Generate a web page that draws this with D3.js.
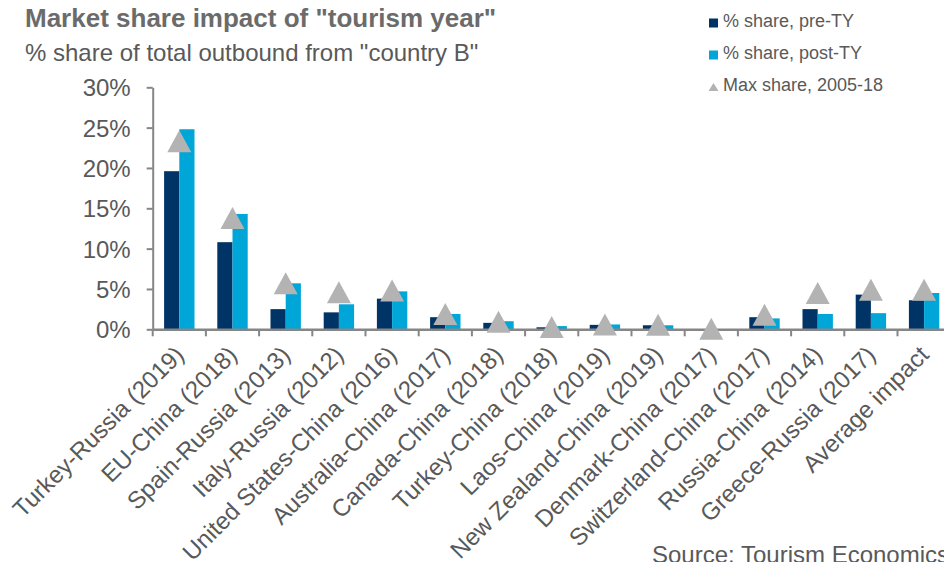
<!DOCTYPE html>
<html><head><meta charset="utf-8">
<script src="https://cdn.jsdelivr.net/npm/d3@7"></script>
<style>body{margin:0;background:#fff;overflow:hidden}svg{display:block;font-family:"Liberation Sans",Arial,sans-serif}</style>
</head><body><svg id="c" width="944" height="562"></svg>
<script>
const categories = ["Turkey-Russia (2019)","EU-China (2018)","Spain-Russia (2013)","Italy-Russia (2012)","United States-China (2016)","Australia-China (2017)","Canada-China (2018)","Turkey-China (2018)","Laos-China (2019)","New Zealand-China (2019)","Denmark-China (2017)","Switzerland-China (2017)","Russia-China (2014)","Greece-Russia (2017)","Average impact"];
const preTY  = [19.6,10.8,2.5,2.1,3.8,1.5,0.8,0.25,0.55,0.5,0.0,1.5,2.5,4.3,3.6];
const postTY = [24.8,14.3,5.7,3.1,4.7,1.9,1.0,0.4,0.6,0.5,0.0,1.35,1.9,2.0,4.5];
const maxShare = [23.3,13.8,5.7,4.6,4.8,1.9,0.95,0.3,0.6,0.55,0.07,1.8,4.5,4.9,4.9];
const yTicks = [0,5,10,15,20,25,30];
const seriesNames = ['% share, pre-TY','% share, post-TY','Max share, 2005-18'];

const svg = d3.select('#c');
const x0 = 152.7, bw = 53.2;
const x = d3.scaleBand().domain(categories).range([x0, x0 + bw*categories.length]).padding(0);
const y = d3.scaleLinear().domain([0,30]).range([329.3,87.3]);
const barW = 15.2;
const cPre='#003366', cPost='#00a6d8', cTri='#b3b3b3', axisC='#868686', txt='#595959';

// title
svg.append('text').attr('x',25).attr('y',27).attr('font-size',26).attr('font-weight','bold').attr('fill','#6b6b6b').text('Market share impact of "tourism year"');
svg.append('text').attr('x',25).attr('y',61).attr('font-size',24).attr('fill',txt).text('% share of total outbound from "country B"');

// y axis
const ya = svg.append('g').attr('transform',`translate(${x0},0)`).call(d3.axisLeft(y).tickValues(yTicks).tickFormat(d=>d+'%').tickSize(6).tickSizeOuter(0));
ya.select('.domain').attr('stroke',axisC).attr('stroke-width',2);
ya.selectAll('.tick line').attr('stroke',axisC).attr('stroke-width',2);
ya.selectAll('.tick text').attr('font-size',24).attr('fill',txt).attr('x',-22).attr('dy','0.35em').attr('font-family','"Liberation Sans",Arial,sans-serif');

// bars
const g = svg.append('g');
categories.forEach((c,i)=>{
  const cx = x(c) + x.bandwidth()/2;
  g.append('rect').attr('x',cx-barW).attr('width',barW).attr('y',y(preTY[i])).attr('height',y(0)-y(preTY[i])).attr('fill',cPre);
  g.append('rect').attr('x',cx).attr('width',barW).attr('y',y(postTY[i])).attr('height',y(0)-y(postTY[i])).attr('fill',cPost);
});

// x axis
const xa = svg.append('g').attr('transform',`translate(0,${y(0)})`).call(d3.axisBottom(x).tickValues([]).tickSizeOuter(0));
xa.select('.domain').attr('stroke',axisC).attr('stroke-width',2.5);
d3.range(categories.length+1).forEach(i=>{
  svg.append('line').attr('x1',x0+i*bw).attr('x2',x0+i*bw).attr('y1',y(0)).attr('y2',y(0)+7).attr('stroke',axisC).attr('stroke-width',2);
});
// labels
categories.forEach((c,i)=>{
  const cx = x(c) + x.bandwidth()/2;
  svg.append('text').attr('transform',`translate(${cx+6},${y(0)+27}) rotate(-45)`).attr('text-anchor','end').attr('font-size',24).attr('fill',txt).text(c);
});

// triangles
const triPath = 'M0,-11L12,11L-12,11Z';
categories.forEach((c,i)=>{
  const cx = x(c) + x.bandwidth()/2;
  svg.append('path').attr('d',triPath).attr('transform',`translate(${cx},${y(maxShare[i])})`).attr('fill',cTri);
});

// legend
const lg = svg.append('g');
[cPre,cPost].forEach((col,i)=>{
  lg.append('rect').attr('x',709).attr('y',18.5+i*32).attr('width',9).attr('height',9).attr('fill',col);
  lg.append('text').attr('x',723).attr('y',27+i*32).attr('font-size',18).attr('fill',txt).text(seriesNames[i]);
});
lg.append('path').attr('d','M0,-4L5,4L-5,4Z').attr('transform','translate(713.5,87)').attr('fill',cTri);
lg.append('text').attr('x',723).attr('y',91).attr('font-size',18).attr('fill',txt).text(seriesNames[2]);

svg.append('text').attr('x',652).attr('y',563).attr('font-size',24).attr('fill',txt).text('Source: Tourism Economics');
</script></body></html>
